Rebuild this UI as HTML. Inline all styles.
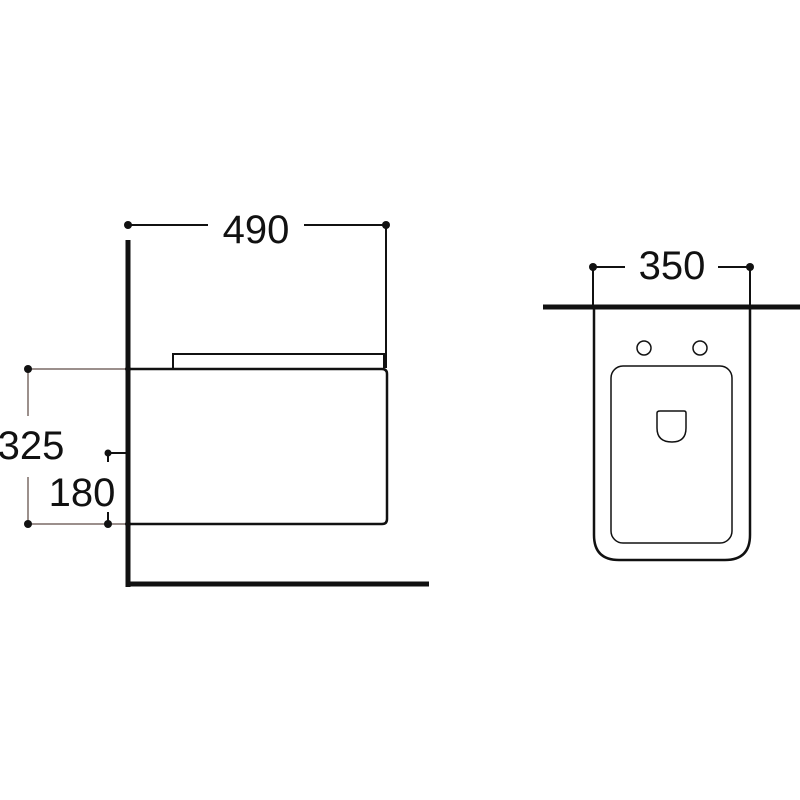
<!DOCTYPE html>
<html><head><style>body{margin:0;background:#fff}svg{display:block}text{font-family:"Liberation Sans",sans-serif;fill:#111}</style></head>
<body>
<svg width="800" height="800" viewBox="0 0 800 800">
<g stroke="#111" fill="none">
<line x1="128" y1="240" x2="128" y2="587" stroke-width="5"/>
<line x1="126" y1="584" x2="429" y2="584" stroke-width="5"/>
<line x1="128" y1="225" x2="208" y2="225" stroke-width="2"/>
<line x1="304" y1="225" x2="386" y2="225" stroke-width="2"/>
<line x1="386" y1="225" x2="386" y2="368" stroke-width="2"/>
<path d="M173 368 V354 H384 V368" stroke-width="2"/>
<path d="M128 369 H382 Q387 369 387 374 V519 Q387 524 382 524 H128" stroke-width="2.5"/>
<g stroke="#7a6a66" stroke-width="1.5">
<line x1="28" y1="369" x2="126" y2="369"/>
<line x1="28" y1="524" x2="126" y2="524"/>
<line x1="28" y1="369" x2="28" y2="416"/>
<line x1="28" y1="477" x2="28" y2="524"/>
</g>
<line x1="108" y1="453" x2="126" y2="453" stroke-width="2"/>
<line x1="108" y1="453" x2="108" y2="462" stroke-width="2"/>
<line x1="108" y1="512" x2="108" y2="524" stroke-width="2"/>
<line x1="593" y1="267" x2="625" y2="267" stroke-width="2"/>
<line x1="718" y1="267" x2="750" y2="267" stroke-width="2"/>
<line x1="593" y1="267" x2="593" y2="307" stroke-width="2"/>
<line x1="750" y1="267" x2="750" y2="307" stroke-width="2"/>
<line x1="543" y1="307" x2="800" y2="307" stroke-width="5"/>
<path d="M594 309 V535 Q594 560 619 560 H725 Q750 560 750 535 V309" stroke-width="2.5"/>
<rect x="611" y="366" width="121" height="177" rx="12" stroke-width="1.5"/>
<circle cx="644" cy="348" r="7" stroke-width="1.5"/>
<circle cx="700" cy="348" r="7" stroke-width="1.5"/>
<path d="M657 413 Q657 411 660 411 H684 Q686 411 686 413 V428 Q686 442 672 442 Q657 442 657 428 Z" stroke-width="1.5"/>
</g>
<g fill="#111">
<circle cx="128" cy="225" r="4"/><circle cx="386" cy="225" r="4"/>
<circle cx="28" cy="369" r="4"/><circle cx="28" cy="524" r="4"/>
<circle cx="108" cy="453" r="3.5"/><circle cx="108" cy="524" r="4"/>
<circle cx="128" cy="369" r="3"/><circle cx="128" cy="524" r="3"/>
<circle cx="593" cy="267" r="4"/><circle cx="750" cy="267" r="4"/>
</g>
<text x="256" y="243" font-size="40" text-anchor="middle">490</text>
<text x="31" y="459" font-size="40" text-anchor="middle">325</text>
<text x="82" y="506" font-size="40" text-anchor="middle">180</text>
<text x="672" y="279" font-size="40" text-anchor="middle">350</text>
</svg>
</body></html>
